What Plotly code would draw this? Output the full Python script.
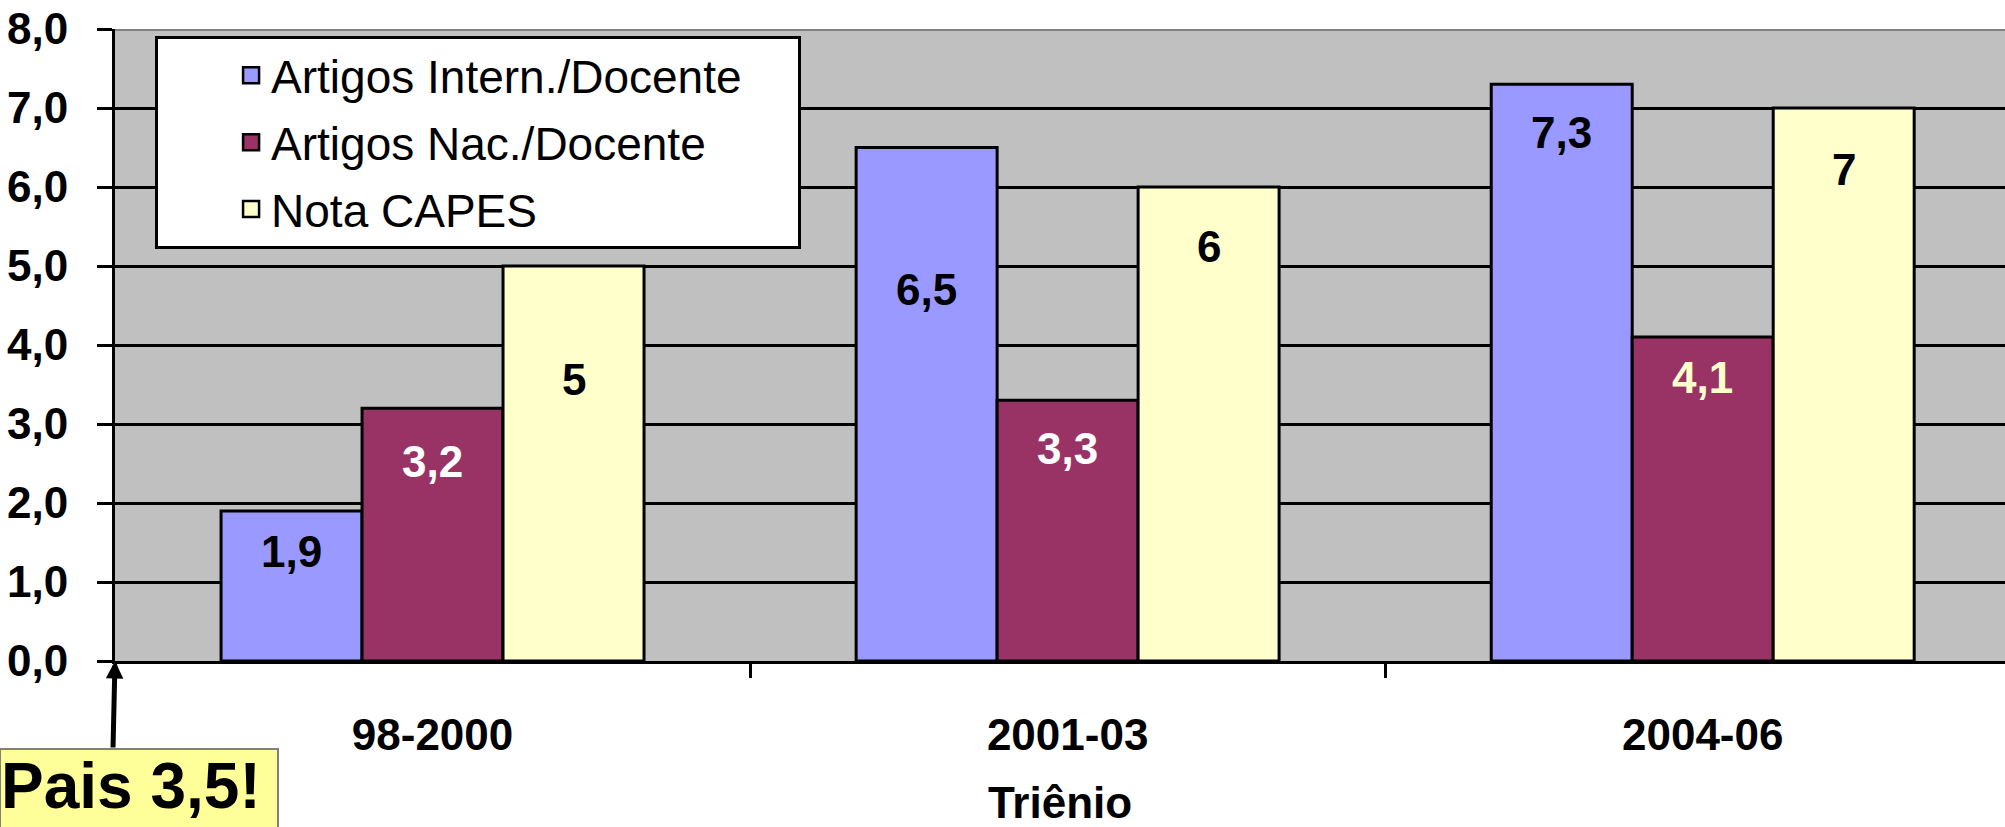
import plotly.graph_objects as go

# ---- data ----
categories = ["98-2000", "2001-03", "2004-06"]
series_names = ["Artigos Intern./Docente", "Artigos Nac./Docente", "Nota CAPES"]
intern_vals = [1.9, 6.5, 7.3]
nac_vals = [3.2, 3.3, 4.1]
capes_vals = [5, 6, 7]
y_tick_vals = [0, 1, 2, 3, 4, 5, 6, 7, 8]
x_title = "Triênio"
note_text = "Pais 3,5!"

# ---- styles ----
FONT = "Liberation Sans, Arial, sans-serif"
bar_colors = ["#9999FF", "#993366", "#FFFFCC"]
label_colors = [["black"] * 3, ["white", "white", "#FFFFCC"], ["black"] * 3]
label_drop = [[41, 142, 48], [53, 48, 40], [113, 59, 61]]  # px below bar top
legend_pad = ["\u00a0" * 4, "", ""]  # widen the legend box like the original
BARGAP = 0.334
bar_w = (1 - BARGAP) / 3

all_series = [intern_vals, nac_vals, capes_vals]


def fmt(v):
    return f"{v:g}".replace(".", ",")


fig = go.Figure()
for name, vals, col in zip(series_names, all_series, bar_colors):
    fig.add_trace(go.Bar(
        x=categories, y=vals, name=name, showlegend=False,
        marker=dict(color=col, line=dict(color="black", width=3)),
        hoverinfo="x+y",
    ))
# legend proxies (bigger swatches)
for name, col, pad in zip(series_names, bar_colors, legend_pad):
    fig.add_trace(go.Scatter(
        x=[None], y=[None], mode="markers", name=name + pad, legendgroup=name,
        marker=dict(symbol="square", size=16, color=col,
                    line=dict(color="black", width=2.5)),
    ))

annotations = []
for si, vals in enumerate(all_series):
    for ci, v in enumerate(vals):
        annotations.append(dict(
            x=ci + (si - 1) * bar_w, y=v, xref="x", yref="y",
            text=fmt(v), showarrow=False, yanchor="middle",
            yshift=-label_drop[si][ci],
            font=dict(family=FONT, size=44, color=label_colors[si][ci], weight="bold"),
        ))

# "Pais 3,5!" note and arrow to the axis origin
annotations.append(dict(
    x=-0.5, y=0, xref="x", yref="y", text="", showarrow=True,
    arrowhead=2, arrowsize=0.7, arrowwidth=5, arrowcolor="black",
    ax=-2, ay=88, standoff=0,
))
annotations.append(dict(
    xref="paper", yref="paper", x=-116 / 1890, y=-0.1377,
    xanchor="left", yanchor="top", text=note_text, showarrow=False,
    font=dict(family=FONT, size=64, color="black", weight="bold"),
    bgcolor="#FFFF99", bordercolor="#808080", borderwidth=2,
    width=276, height=110, align="left", valign="top", borderpad=0,
))

fig.update_layout(
    width=2005, height=827,
    margin=dict(l=115, r=0, t=29, b=166, pad=0, autoexpand=False),
    paper_bgcolor="white", plot_bgcolor="#C0C0C0",
    separators=",.",
    barmode="group", bargap=BARGAP, bargroupgap=0,
    font=dict(family=FONT, color="black"),
    legend=dict(
        x=0.0212, y=0.989, xanchor="left", yanchor="top",
        bgcolor="white", bordercolor="black", borderwidth=3,
        font=dict(family=FONT, size=46, color="black"),
        indentation=73, tracegroupgap=4, traceorder="grouped",
        itemsizing="trace",
    ),
    annotations=annotations,
    shapes=[dict(type="line", xref="paper", yref="y", x0=0, x1=1, y0=8, y1=8,
                 line=dict(color="#808080", width=4))],
    showlegend=True,
)
fig.update_yaxes(
    range=[0, 8], tickvals=y_tick_vals, tickformat=".1f", automargin=False,
    showgrid=True, gridcolor="black", gridwidth=3, zeroline=False,
    showline=True, linecolor="black", linewidth=3,
    ticks="outside", ticklen=15, tickwidth=3, tickcolor="black",
    tickfont=dict(family=FONT, size=44, weight="bold"),
    ticklabelstandoff=20,
)
fig.update_xaxes(
    type="category", range=[-0.5, 2.476], automargin=True,
    showline=True, linecolor="black", linewidth=3,
    ticks="outside", tickson="boundaries", ticklen=14, tickwidth=3, tickcolor="black",
    tickfont=dict(family=FONT, size=44, weight="bold"),
    ticklabelstandoff=33,
    title=dict(text=x_title, font=dict(family=FONT, size=44, weight="bold"), standoff=36),
    showgrid=False,
)

# remove the default page margin so the figure sits at the window's corner
fig.write_html(
    "out.html",
    config={"displayModeBar": False},
    post_script="document.body.style.margin='0';document.body.style.overflow='hidden';",
)
